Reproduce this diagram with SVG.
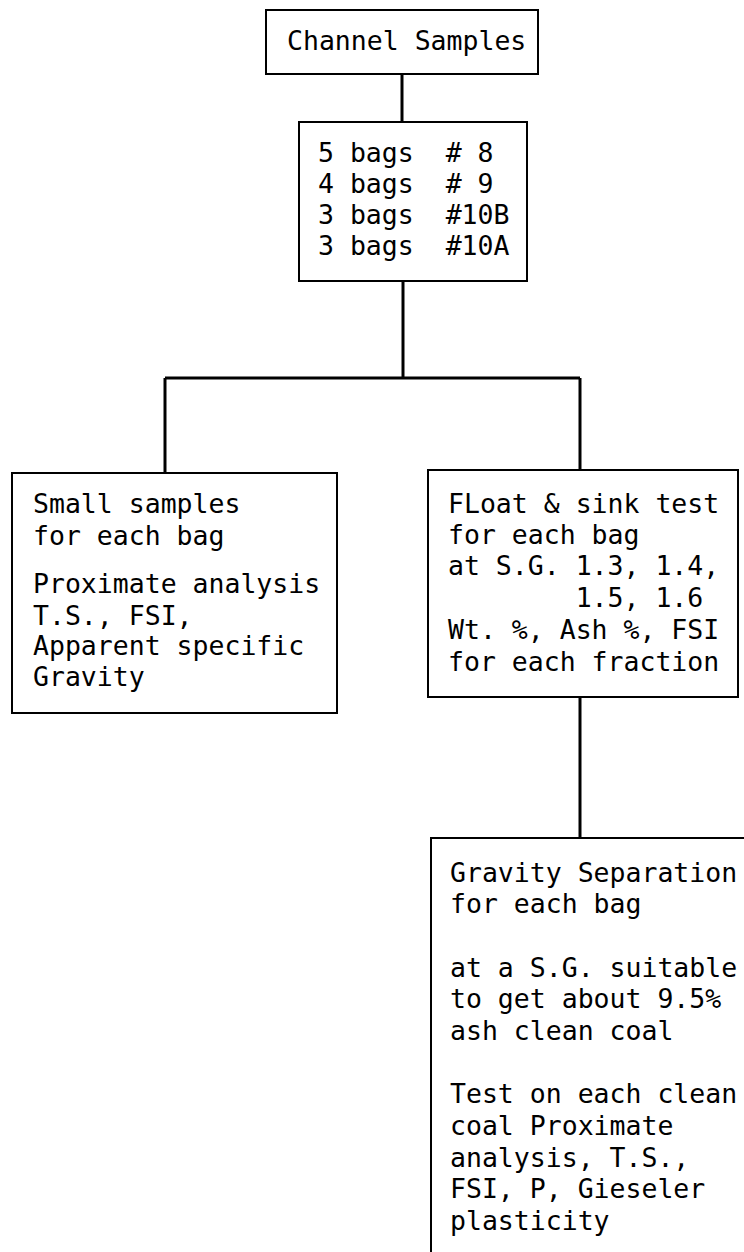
<svg xmlns="http://www.w3.org/2000/svg" width="744" height="1252" viewBox="0 0 744 1252">
<style>
.box{fill:none;stroke:#000;stroke-width:2}
.edge{fill:none;stroke:#000;stroke-width:3}
text{font-family:"DejaVu Sans Mono","Liberation Mono",monospace;font-size:26.5px;fill:#000;white-space:pre}
</style>
<rect width="744" height="1252" fill="#fff"/>
<g id="connectors">
<path class="edge" d="M402 74V122"/>
<path class="edge" d="M403 281V378"/>
<path class="edge" d="M165 378H580"/>
<path class="edge" d="M165 378V473"/>
<path class="edge" d="M580 378V470"/>
<path class="edge" d="M580 697V838"/>
</g>
<g id="channel">
<rect class="box" x="266" y="10" width="272" height="64"/>
<text x="287" y="50">Channel Samples</text>
</g>
<g id="bags">
<rect class="box" x="299" y="122" width="228" height="159"/>
<text x="318" y="162" xml:space="preserve">5 bags  # 8</text>
<text x="318" y="193" xml:space="preserve">4 bags  # 9</text>
<text x="318" y="224" xml:space="preserve">3 bags  #10B</text>
<text x="318" y="255" xml:space="preserve">3 bags  #10A</text>
</g>
<g id="small">
<rect class="box" x="12" y="473" width="325" height="240"/>
<text x="33" y="513">Small samples</text>
<text x="33" y="545">for each bag</text>
<text x="33" y="593">Proximate analysis</text>
<text x="33" y="625">T.S., FSI,</text>
<text x="33" y="655">Apparent specific</text>
<text x="33" y="686">Gravity</text>
</g>
<g id="float">
<rect class="box" x="428" y="470" width="310" height="227"/>
<text x="448" y="513">FLoat &amp; sink test</text>
<text x="448" y="544">for each bag</text>
<text x="448" y="575">at S.G. 1.3, 1.4,</text>
<text x="448" y="607" xml:space="preserve">        1.5, 1.6</text>
<text x="448" y="639">Wt. %, Ash %, FSI</text>
<text x="448" y="671">for each fraction</text>
</g>
<g id="gravity">
<path class="box" d="M744 838H431V1252"/>
<text x="450" y="882">Gravity Separation</text>
<text x="450" y="913">for each bag</text>
<text x="450" y="977">at a S.G. suitable</text>
<text x="450" y="1008">to get about 9.5%</text>
<text x="450" y="1040">ash clean coal</text>
<text x="450" y="1103">Test on each clean</text>
<text x="450" y="1135">coal Proximate</text>
<text x="450" y="1167">analysis, T.S.,</text>
<text x="450" y="1198">FSI, P, Gieseler</text>
<text x="450" y="1230">plasticity</text>
</g>
</svg>
